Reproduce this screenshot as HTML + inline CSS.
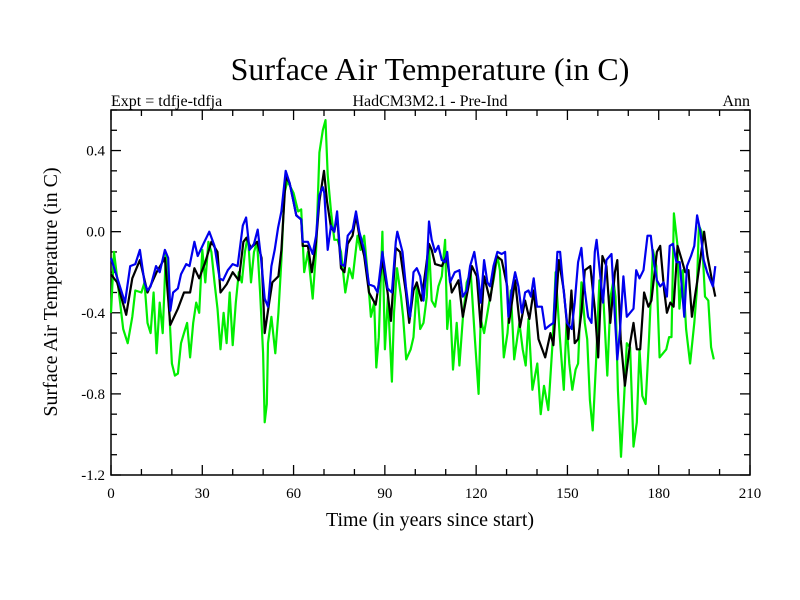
<!DOCTYPE html>
<html><head><meta charset="utf-8"><style>
html,body{margin:0;padding:0;background:#fff;}
svg{display:block;font-family:"Liberation Serif",serif;}
</style></head><body>
<svg id="chart" width="800" height="600" viewBox="0 0 800 600">
<rect x="0" y="0" width="800" height="600" fill="#fff"/>
<text x="430" y="80" font-size="32" text-anchor="middle">Surface Air Temperature (in C)</text>
<text x="111" y="106" font-size="16">Expt = tdfje-tdfja</text>
<text x="430" y="106" font-size="16" text-anchor="middle">HadCM3M2.1 - Pre-Ind</text>
<text x="750" y="106" font-size="16" text-anchor="end">Ann</text>
<text x="430" y="526" font-size="20" text-anchor="middle">Time (in years since start)</text>
<text x="0" y="0" font-size="20" text-anchor="middle" transform="translate(57,292) rotate(-90)">Surface Air Temperature (in C)</text>
<g id="axes"></g>
<g id="series"></g>
</svg>
<script>
const xTicks=[0,30,60,90,120,150,180,210];
const yTicks=[-1.2,-0.8,-0.4,0.0,0.4];
const yTickLabels=["-1.2","-0.8","-0.4","0.0","0.4"];
const blueYears=[0,2.3,4.6,6.3,8,9.5,11,12,13,14.8,16,17.7,18.8,19.5,20.4,22,23,24.7,25.8,27.4,28.5,30.7,32.3,34,35.7,36.8,38.4,40,41.6,43.3,44.4,45.5,47,48.2,49.3,50.5,51.6,52.7,53.8,54.9,56,57.4,58.7,59.8,60.9,62.5,63,64.7,66.3,67.4,68.5,69.6,70.1,71.2,72.3,73.4,74.3,75.6,76.7,77.8,79.4,80.5,81.6,83.2,84.8,86.5,87.6,89.2,90.9,92.3,93.6,94.1,95.8,96.9,98,98.3,99.4,100.5,101.6,102.7,103.8,104.5,105.4,106.5,107.6,108.7,109.8,110.5,111.4,113,114.5,115.6,116.9,118,119.4,120.8,121.5,122.6,123.7,124.6,125.7,127,128.4,129.5,130.6,131.7,132.8,133.9,135,136.1,137.2,138,138.9,140,141.6,142.7,144.4,145.4,146.7,147.6,148.6,149.9,151.4,152.4,153.5,154.6,155.7,156.8,157.9,159,159.6,160.6,161.7,162.8,164.5,165.6,166.4,167.3,168.4,169.5,170.6,171.7,172.6,173.7,175,176.3,177.4,178.3,179.4,180.5,181.6,182.7,183.6,184.7,185.8,186.9,188.4,189.3,190.6,191.7,192.6,193.7,194.8,195.9,197,197.8,198.6];
const blueValues=[-0.13,-0.24,-0.35,-0.17,-0.16,-0.09,-0.25,-0.29,-0.27,-0.17,-0.2,-0.09,-0.13,-0.39,-0.3,-0.28,-0.21,-0.16,-0.17,-0.05,-0.12,-0.05,0.0,-0.07,-0.23,-0.24,-0.19,-0.16,-0.17,0.03,0.07,-0.09,-0.06,0.01,-0.13,-0.33,-0.37,-0.17,-0.09,0.02,0.1,0.3,0.24,0.16,0.08,0.06,-0.05,-0.05,-0.11,-0.02,0.18,0.22,0.19,-0.09,0.03,0.0,0.1,-0.16,-0.17,-0.02,0.01,0.1,0.0,-0.09,-0.26,-0.27,-0.3,-0.1,-0.28,-0.3,-0.05,0.0,-0.1,-0.27,-0.4,-0.42,-0.2,-0.18,-0.22,-0.34,-0.17,0.05,-0.04,-0.1,-0.07,-0.14,-0.15,-0.1,-0.25,-0.2,-0.19,-0.32,-0.29,-0.17,-0.1,-0.24,-0.35,-0.14,-0.25,-0.27,-0.17,-0.1,-0.11,-0.1,-0.42,-0.29,-0.2,-0.27,-0.4,-0.3,-0.29,-0.32,-0.23,-0.37,-0.37,-0.48,-0.46,-0.45,-0.1,-0.1,-0.27,-0.45,-0.48,-0.35,-0.15,-0.08,-0.29,-0.42,-0.45,-0.1,-0.04,-0.19,-0.35,-0.14,-0.11,-0.42,-0.63,-0.48,-0.22,-0.42,-0.4,-0.38,-0.19,-0.23,-0.19,-0.02,-0.02,-0.14,-0.24,-0.27,-0.25,-0.32,-0.07,-0.06,-0.15,-0.15,-0.42,-0.17,-0.12,-0.07,0.08,0.0,-0.14,-0.2,-0.24,-0.27,-0.17];
const blackYears=[0,2,5,7,9.5,12,15,17.7,19.5,22,24,26,27.4,29,31,33,35,36,38,40,42,43.5,44.5,46,48,49.5,50.5,52,53,55,56,57.4,58.7,59.8,60.9,62.5,63,64.7,66,67.4,68.5,70,71,72.3,73.4,74.3,75.6,76.7,77.8,79.4,80.5,81.6,83.2,84.8,87,89.2,90.9,92,93.6,95,96.9,98,99.4,100.5,102,103.3,104.5,105.4,106.5,108.7,110.3,112,114.2,115.6,117.5,118.6,120.2,121.5,122.6,124.6,126.7,128.4,130.2,130.8,132.8,134.4,136.1,137.5,138.9,140.5,142.7,144.4,145.4,147.2,148.8,150.3,151.3,152.4,153.5,154.6,155.7,157.5,159,160.1,161.5,162.8,164.1,165.6,166.4,167.5,168.9,170.6,171.7,172.8,173.9,175.2,176.6,177.6,179.4,180.5,181.8,182.7,183.8,184.9,186.2,187.6,188.7,189.8,190.9,191.9,192.7,193.8,194.9,196,196.9,197.5,198.6];
const blackValues=[-0.21,-0.25,-0.41,-0.23,-0.14,-0.3,-0.2,-0.13,-0.46,-0.38,-0.3,-0.3,-0.18,-0.23,-0.15,-0.05,-0.1,-0.3,-0.26,-0.2,-0.24,-0.05,-0.03,-0.08,-0.05,-0.13,-0.5,-0.35,-0.25,-0.22,-0.09,0.27,0.24,0.16,0.08,0.06,-0.07,-0.07,-0.2,-0.05,0.15,0.3,0.15,0.02,0.0,0.08,-0.18,-0.2,-0.06,-0.02,0.08,-0.02,-0.12,-0.3,-0.36,-0.14,-0.3,-0.44,-0.08,-0.1,-0.3,-0.45,-0.29,-0.25,-0.34,-0.2,-0.06,-0.09,-0.16,-0.17,-0.12,-0.3,-0.24,-0.42,-0.27,-0.17,-0.22,-0.47,-0.22,-0.34,-0.12,-0.14,-0.27,-0.45,-0.24,-0.47,-0.34,-0.43,-0.29,-0.53,-0.62,-0.5,-0.56,-0.14,-0.29,-0.53,-0.29,-0.55,-0.53,-0.4,-0.19,-0.17,-0.38,-0.62,-0.12,-0.17,-0.45,-0.2,-0.14,-0.53,-0.76,-0.55,-0.45,-0.58,-0.58,-0.3,-0.37,-0.34,-0.1,-0.07,-0.29,-0.4,-0.35,-0.37,-0.07,-0.14,-0.2,-0.19,-0.42,-0.32,-0.24,-0.12,0.0,-0.12,-0.19,-0.24,-0.32,-0.38,-0.22];
const greenYears=[0,1,3,4,5.5,7,8,10,11,12,13,14,15,16,17,18,19,20,21,22,23,24,25,26,27,28,29,30,31,32,33,34,35,36,37,38,39,40,41,42,43,44,45,46,47,48,49,50,50.5,51.2,51.6,52.7,54,55,56,57,58,60,61.5,62.5,63.5,64.7,66.3,67.4,68.5,69.6,70.5,71.2,72.3,73.4,74.5,75.6,77,78.3,79.4,81,82,83.2,84.3,85.4,86.5,87.2,88,89.2,90,91,92.3,93,94,95.3,96,97,98.5,99.4,100.5,101.6,102.7,103.8,104.5,105.4,106.5,107.6,108.7,109.8,110.5,111.4,112.4,113.6,114.5,115.6,116.9,118.2,119.6,120.8,121.5,122.6,124.4,125.7,127,127.8,129.1,130.3,131.4,132.5,134.2,135.3,136.3,137.2,138.5,140.1,141.2,142.3,143.7,145.2,146.1,147.5,148.8,149.7,150.6,151.6,152.7,153.5,154.6,155.7,156.5,157.4,158.3,159.4,160.5,161.8,163.1,164.2,165.1,165.8,166.6,167.6,168.5,169.5,170.6,171.7,172.8,173.7,174.6,175.7,176.8,178.1,179.2,180.3,181.4,182.5,183.4,184.2,185,186.1,186.8,187.9,189,190.3,191.7,192.5,193.2,194.1,195.2,196.3,197.2,198.1];
const greenValues=[-0.4,-0.1,-0.35,-0.48,-0.55,-0.42,-0.29,-0.3,-0.25,-0.45,-0.5,-0.3,-0.6,-0.35,-0.5,-0.11,-0.35,-0.65,-0.71,-0.7,-0.55,-0.5,-0.45,-0.62,-0.45,-0.35,-0.4,-0.09,-0.25,-0.05,-0.1,-0.25,-0.38,-0.58,-0.4,-0.55,-0.3,-0.56,-0.35,-0.2,-0.25,-0.1,-0.02,-0.25,-0.1,-0.05,-0.3,-0.6,-0.94,-0.85,-0.55,-0.42,-0.6,-0.4,-0.14,0.19,0.25,0.19,0.1,0.11,-0.2,-0.1,-0.33,-0.09,0.39,0.5,0.55,0.28,0.1,-0.04,-0.04,-0.1,-0.3,-0.18,-0.23,-0.02,-0.09,-0.02,-0.2,-0.42,-0.35,-0.67,-0.52,0.0,-0.58,-0.32,-0.74,-0.4,-0.18,-0.32,-0.42,-0.63,-0.58,-0.52,-0.27,-0.48,-0.45,-0.32,-0.07,-0.34,-0.37,-0.27,-0.22,-0.04,-0.48,-0.34,-0.68,-0.45,-0.66,-0.43,-0.25,-0.2,-0.53,-0.8,-0.43,-0.5,-0.34,-0.24,-0.12,-0.19,-0.62,-0.5,-0.29,-0.63,-0.45,-0.58,-0.66,-0.43,-0.78,-0.65,-0.9,-0.76,-0.88,-0.53,-0.2,-0.52,-0.78,-0.45,-0.65,-0.78,-0.68,-0.65,-0.25,-0.45,-0.53,-0.83,-0.98,-0.65,-0.24,-0.32,-0.71,-0.32,-0.24,-0.32,-0.78,-1.11,-0.86,-0.55,-0.57,-1.06,-0.94,-0.58,-0.81,-0.85,-0.53,-0.09,-0.17,-0.62,-0.6,-0.58,-0.52,-0.52,0.09,-0.06,-0.38,-0.19,-0.48,-0.65,-0.45,-0.29,0.03,0.0,-0.32,-0.34,-0.57,-0.63,-0.4];

const NS="http://www.w3.org/2000/svg";
const X0=111,X1=750,Y0=475,Y1=110;
const xMin=0,xMax=210,yMin=-1.2,yMax=0.6;
function xs(v){return X0+(v-xMin)/(xMax-xMin)*(X1-X0);}
function ys(v){return Y0-(v-yMin)/(yMax-yMin)*(Y0-Y1);}
const axes=document.getElementById('axes');
function mk(tag,attrs,parent){const e=document.createElementNS(NS,tag);for(const k in attrs)e.setAttribute(k,attrs[k]);parent.appendChild(e);return e;}

const frame=mk('rect',{x:X0,y:Y1,width:X1-X0,height:Y0-Y1,fill:'none',stroke:'#000','stroke-width':1.5},axes);



// minor x ticks every 10 years, major every 30
for(let v=0;v<=210;v+=10){
  const major=(v%30===0);
  const L=major?10:6;
  const x=xs(v);
  const t1=mk('line',{x1:x,y1:Y0,x2:x,y2:Y0-L,stroke:'#000','stroke-width':1.3},axes);
  
  
  const t2=mk('line',{x1:x,y1:Y1,x2:x,y2:Y1+L,stroke:'#000','stroke-width':1.3},axes);
  
  
}
xTicks.forEach(v=>{
  const t=mk('text',{x:xs(v),y:Y0+23,'font-size':15,'text-anchor':'middle'},axes);
  t.textContent=String(v);
  
  
});
for(let i=0;i<=18;i++){
  const v=yMin+i*0.1;
  const major=(i%4===0);
  const L=major?10:6;
  const y=ys(v);
  const t1=mk('line',{x1:X0,y1:y,x2:X0+L,y2:y,stroke:'#000','stroke-width':1.3},axes);
  
  
  const t2=mk('line',{x1:X1,y1:y,x2:X1-L,y2:y,stroke:'#000','stroke-width':1.3},axes);
  
  
}
yTicks.forEach((v,i)=>{
  const t=mk('text',{x:X0-6,y:ys(v)+5,'font-size':15,'text-anchor':'end'},axes);
  t.textContent=yTickLabels[i];
  
  
});

const sg=document.getElementById('series');
function drawLine(yrs,vals,color,name){
  const d=yrs.map((yr,i)=>(i?'L':'M')+xs(yr).toFixed(1)+','+ys(vals[i]).toFixed(1)).join('');
  const p=mk('path',{d:d,fill:'none',stroke:color,'stroke-width':2.2,'stroke-linejoin':'round'},sg);
  
  
}
drawLine(greenYears,greenValues,'#00ee00','series-green');
drawLine(blackYears,blackValues,'#000000','series-black');
drawLine(blueYears,blueValues,'#0000ee','series-blue');
</script>
</body></html>
